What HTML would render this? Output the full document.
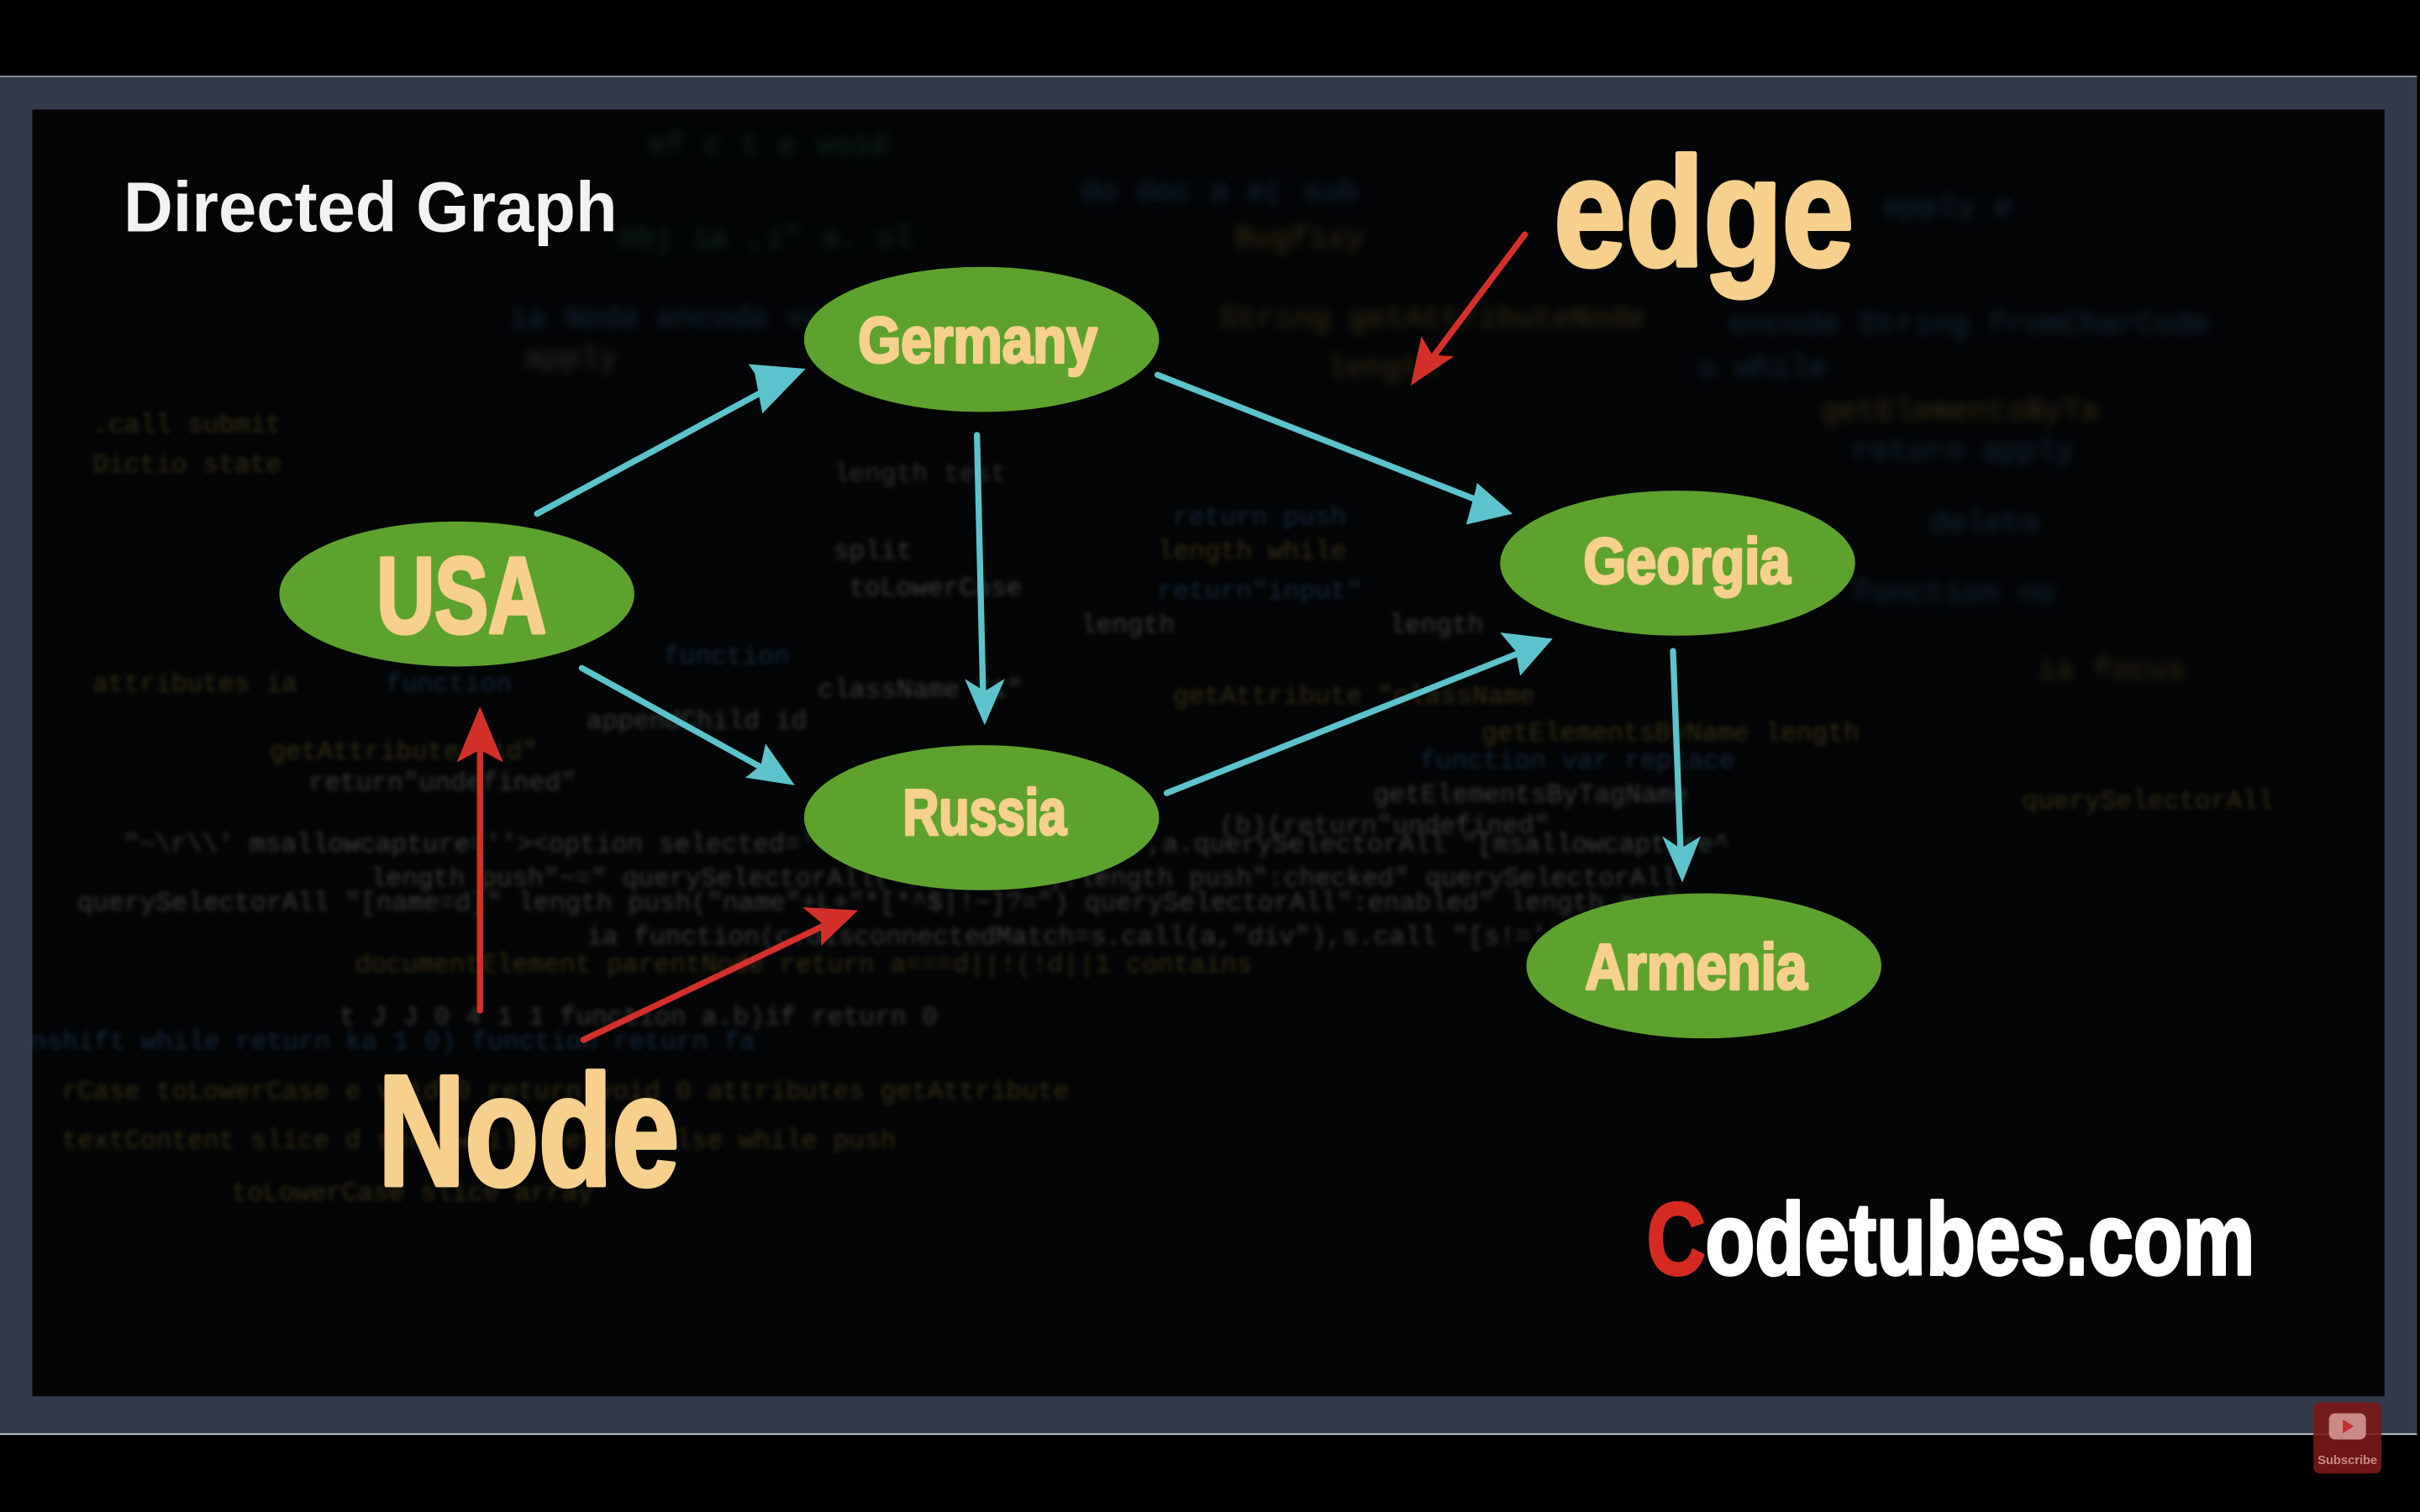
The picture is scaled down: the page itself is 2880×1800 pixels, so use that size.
<!DOCTYPE html>
<html><head><meta charset="utf-8"><style>
html,body{margin:0;padding:0;background:#000;width:2880px;height:1800px;overflow:hidden}
svg{display:block}
.lbl{font-family:"Liberation Sans Narrow","Liberation Sans",sans-serif;font-weight:bold;fill:#f6d08c;stroke:#f6d08c;stroke-width:1.8;stroke-linejoin:round}
.code{font-family:"Liberation Mono",monospace;font-size:17px;opacity:.34}
</style></head><body>
<svg width="2880" height="1800" viewBox="0 0 1568 980" xmlns="http://www.w3.org/2000/svg">
<defs>
<filter id="bl" x="-5%" y="-5%" width="110%" height="110%"><feGaussianBlur stdDeviation="1.6"/></filter>
<filter id="bl2" x="-5%" y="-5%" width="110%" height="110%"><feGaussianBlur stdDeviation="3"/></filter>
</defs>
<rect x="0" y="0" width="1568" height="980" fill="#000"/>
<rect x="0" y="49" width="1566" height="881" fill="#333a4b"/>
<line x1="0" y1="49.5" x2="1566" y2="49.5" stroke="#8a8f9a" stroke-width="1"/>
<line x1="0" y1="929.5" x2="1566" y2="929.5" stroke="#cfd2d8" stroke-width="1"/>
<rect x="21" y="71" width="1524" height="834" fill="#030506"/>
<g filter="url(#bl2)" class="code" style="font-size:20px">
<text x="420" y="100" fill="#2f7a55">ef    c    t    e    void</text>
<text x="700" y="130" fill="#3a6fb0">do   doc   a   e(   sub</text>
<text x="400" y="160" fill="#2f7a55">obj    ia    ,i"  a.    ul</text>
<text x="800" y="160" fill="#a08030">Bugfixy</text>
<text x="1220" y="140" fill="#3a6fb0">apply   e</text>
<text x="330" y="212" fill="#3a6fb0">ia   Node   encode   value</text>
<text x="790" y="212" fill="#a08030">String  getAttributeNode</text>
<text x="1120" y="216" fill="#3a6fb0">encode   String  fromCharCode</text>
<text x="340" y="238" fill="#888">apply</text>
<text x="860" y="244" fill="#a08030">length</text>
<text x="1100" y="244" fill="#3a6fb0">u  while</text>
<text x="1180" y="272" fill="#a08030">getElementsByTa</text>
<text x="1200" y="298" fill="#3a6fb0">return     apply</text>
<text x="1250" y="345" fill="#3a6fb0">delete</text>
<text x="1200" y="390" fill="#3a6fb0">function  no</text>
<text x="1320" y="440" fill="#a08030">ia     focus</text>
</g>
<g filter="url(#bl)" class="code">
<text x="60" y="280" fill="#a08030">.call  submit</text>
<text x="60" y="306" fill="#a08030">Dictio  state</text>
<text x="540" y="312" fill="#888">length    test</text>
<text x="760" y="340" fill="#3a6fb0">return    push</text>
<text x="540" y="362" fill="#aaa">split</text>
<text x="550" y="386" fill="#aaa">toLowerCase</text>
<text x="750" y="362" fill="#a08030">length while</text>
<text x="750" y="388" fill="#3a6fb0">return"input"</text>
<text x="700" y="410" fill="#aaa">length</text>
<text x="900" y="410" fill="#aaa">length</text>
<text x="430" y="430" fill="#3a6fb0">function</text>
<text x="60" y="448" fill="#a08030">attributes  ia</text>
<text x="250" y="448" fill="#3a6fb0">function</text>
<text x="530" y="452" fill="#aaa">className  "1"</text>
<text x="760" y="456" fill="#a08030">getAttribute  "className</text>
<text x="380" y="472" fill="#aaa">appendChild   id</text>
<text x="960" y="480" fill="#a08030">getElementsByName     length</text>
<text x="175" y="492" fill="#a08030">getAttribute  "id"</text>
<text x="920" y="498" fill="#3a6fb0">function  var       replace</text>
<text x="200" y="512" fill="#aaa">return"undefined"</text>
<text x="890" y="520" fill="#aaa">getElementsByTagName</text>
<text x="1310" y="524" fill="#a08030">querySelectorAll</text>
<text x="790" y="540" fill="#aaa">(b)(return"undefined"</text>
<text x="80" y="552" fill="#aaa">"~\r\\' msallowcapture=''&gt;&lt;option selected=''&gt;&lt;/option&gt;&lt;/select&gt;",a.querySelectorAll "[msallowcapture^</text>
<text x="240" y="574" fill="#aaa">length   push"~="   querySelectorAll(":checked").length  push":checked"    querySelectorAll</text>
<text x="50" y="590" fill="#aaa">querySelectorAll "[name=d]"  length   push("name"+L+"*[*^$|!~]?=")    querySelectorAll":enabled"   length   push</text>
<text x="380" y="612" fill="#aaa">ia function(c.disconnectedMatch=s.call(a,"div"),s.call   "[s!='']:x"    push "!="</text>
<text x="230" y="630" fill="#a08030">documentElement       parentNode return a===d||!(!d||1            contains</text>
<text x="220" y="664" fill="#aaa">t        J      J    0 4  1 1   function  a.b)if            return     0</text>
<text x="20" y="680" fill="#3a6fb0">nshift     while      return   ka                        1 0)    function         return  fa</text>
<text x="40" y="712" fill="#a08030">rCase                           toLowerCase    e      void 0 return void 0   attributes     getAttribute</text>
<text x="40" y="744" fill="#a08030">textContent              slice  d   sort       while       return  else  while   push</text>
<text x="150" y="778" fill="#a08030">toLowerCase      slice       array</text>
</g>
<!-- Title -->
<text x="80" y="150" font-family="Liberation Sans, sans-serif" font-weight="bold" font-size="46" fill="#f2f2f2" textLength="320" lengthAdjust="spacingAndGlyphs">Directed Graph</text>
<!-- cyan edges -->
<g stroke="#5cc3cc" stroke-width="4" fill="none" stroke-linecap="round">
<line x1="348" y1="333" x2="505" y2="248"/>
<line x1="750" y1="243" x2="962" y2="326"/>
<line x1="633" y1="282" x2="637" y2="452"/>
<line x1="377" y1="433" x2="498" y2="500"/>
<line x1="756" y1="514" x2="990" y2="421"/>
<line x1="1084" y1="422" x2="1089" y2="554"/>
</g>
<g fill="#5cc3cc">
<polygon points="522,239 494,268 489,242 485,236"/>
<polygon points="980,333 950,340 956,318 957,313"/>
<polygon points="638,470 625,440 638,448 651,440"/>
<polygon points="515,509 483,504 493,496 496,482"/>
<polygon points="1006,414 985,438 982,422 972,410"/>
<polygon points="1090,572 1077,542 1089,550 1102,542"/>
</g>
<!-- red arrows -->
<g stroke="#d3302a" stroke-width="4" fill="none" stroke-linecap="round">
<line x1="988" y1="152" x2="925" y2="236"/>
<line x1="311" y1="655" x2="311" y2="478"/>
<line x1="378" y1="674" x2="538" y2="598"/>
</g>
<g fill="#d3302a">
<polygon points="914,250 921,218 928,230 942,231"/>
<polygon points="311,458 326,494 311,486 296,494"/>
<polygon points="556,590 532,613 532,598 520,588"/>
</g>
<!-- nodes -->
<g fill="#5ea22e">
<ellipse cx="636" cy="220" rx="115" ry="47"/>
<ellipse cx="296" cy="385" rx="115" ry="47"/>
<ellipse cx="1087" cy="365" rx="115" ry="47"/>
<ellipse cx="636" cy="530" rx="115" ry="47"/>
<ellipse cx="1104" cy="626" rx="115" ry="47"/>
</g>
<text class="lbl" x="556" y="235" font-size="42" textLength="155" lengthAdjust="spacingAndGlyphs">Germany</text>
<text class="lbl" x="244" y="410" font-size="70" textLength="110" lengthAdjust="spacingAndGlyphs" style="stroke-width:2.5">USA</text>
<text class="lbl" x="1026" y="378" font-size="42" textLength="134" lengthAdjust="spacingAndGlyphs">Georgia</text>
<text class="lbl" x="585" y="541" font-size="42" textLength="106" lengthAdjust="spacingAndGlyphs">Russia</text>
<text class="lbl" x="1027" y="641" font-size="42" textLength="144" lengthAdjust="spacingAndGlyphs">Armenia</text>
<text class="lbl" x="1007" y="172" font-size="100" textLength="194" lengthAdjust="spacingAndGlyphs" style="stroke-width:3">edge</text>
<text class="lbl" x="245" y="768" font-size="102" textLength="195" lengthAdjust="spacingAndGlyphs" style="stroke-width:3">Node</text>
<text x="1067" y="826" font-family="Liberation Sans Narrow, Liberation Sans, sans-serif" font-weight="bold" font-size="66" textLength="394" lengthAdjust="spacingAndGlyphs" stroke-width="2" stroke-linejoin="round"><tspan fill="#d42a22" stroke="#d42a22">C</tspan><tspan fill="#ffffff" stroke="#ffffff">odetubes.com</tspan></text>
<!-- subscribe -->
<rect x="1499" y="909" width="44" height="46" rx="4" fill="#7a1a16" opacity=".9"/>
<rect x="1509" y="916" width="24" height="17" rx="4" fill="#c98a86"/>
<polygon points="1518,920 1518,929 1525,924.5" fill="#c0302a"/>
<text x="1521" y="949" font-family="Liberation Sans, sans-serif" font-weight="bold" font-size="8" fill="#c98a86" text-anchor="middle">Subscribe</text>
</svg>
</body></html>
